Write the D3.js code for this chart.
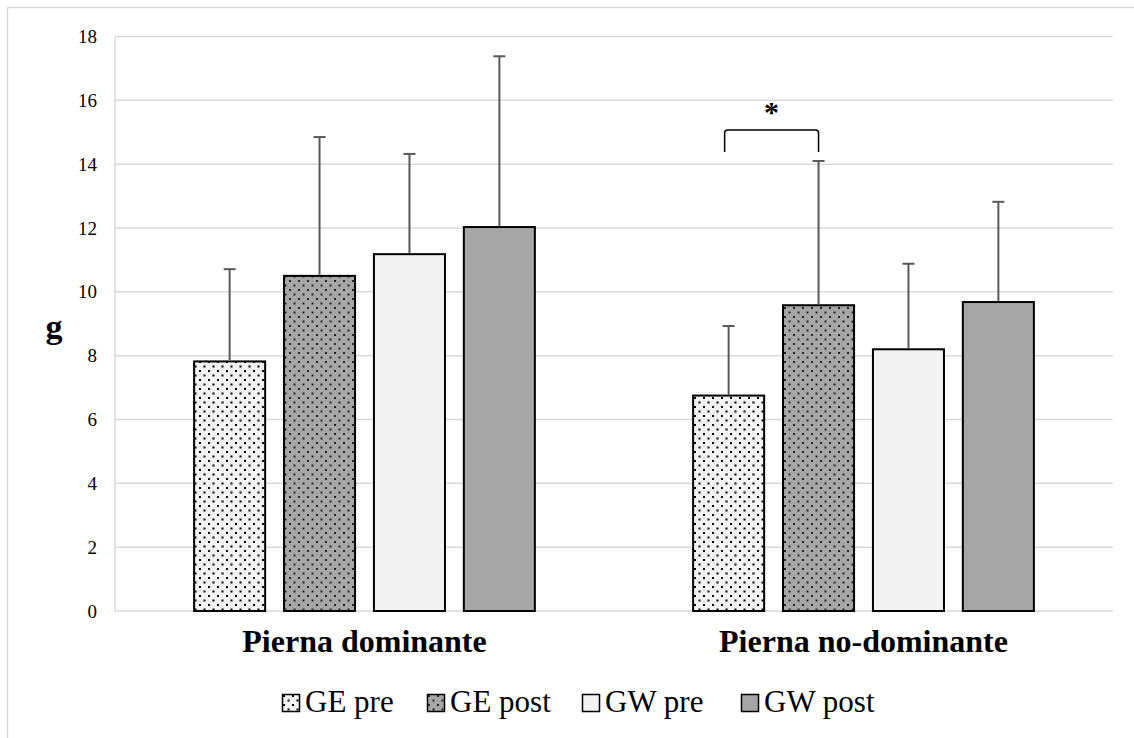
<!DOCTYPE html>
<html>
<head>
  <meta charset="utf-8">
  <script src="https://cdn.jsdelivr.net/npm/d3@7"></script>
  <style>
body { margin: 0; background: #fff; }
svg { font-family: "Liberation Serif", "Times New Roman", serif; }
.grid line { stroke: #d9d9d9; stroke-width: 1.5px; }
.err { stroke: #595959; stroke-width: 2px; }
  </style>
</head>
<body>
  <svg width="1134" height="738"></svg>
  <script>

// data
const categories = ["Pierna dominante", "Pierna no-dominante"];
const series = ["GE pre", "GE post", "GW pre", "GW post"];
const means = [
  [7.82, 10.5, 11.18, 12.03],
  [6.75, 9.58, 8.2, 9.68]
];
const errTop = [
  [10.71, 14.85, 14.32, 17.38],
  [8.93, 14.1, 10.88, 12.82]
];
const yTicks = [0, 2, 4, 6, 8, 10, 12, 14, 16, 18];

const fills = ["url(#dotsLight)", "url(#dotsDark)", "#f2f2f2", "#a6a6a6"];

var svg = d3.select("svg");

var plotL = 115, plotR = 1113, plotT = 36.5, plotB = 611;

// outer chart frame (only left/top edges visible in shot)
svg.append("rect")
   .attr("x", 7.5).attr("y", 7.5)
   .attr("width", 1140).attr("height", 740)
   .attr("fill", "none").attr("stroke", "#d9d9d9").attr("stroke-width", 1.5);

var defs = svg.append("defs");
function dotPattern(id, bg, dot) {
  var p = defs.append("pattern")
              .attr("id", id)
              .attr("patternUnits", "userSpaceOnUse")
              .attr("width", 9).attr("height", 9);
  p.append("rect").attr("width", 9).attr("height", 9).attr("fill", bg);
  p.append("rect").attr("x", 1).attr("y", 1).attr("width", 2).attr("height", 2).attr("fill", dot);
  p.append("rect").attr("x", 5.5).attr("y", 5.5).attr("width", 2).attr("height", 2).attr("fill", dot);
}
dotPattern("dotsLight", "#f2f2f2", "#000");
dotPattern("dotsDark", "#a6a6a6", "#262626");

var y = d3.scaleLinear().domain([0, 18]).range([plotB, plotT]);

var x0 = d3.scaleBand()
           .domain(categories)
           .range([plotL, plotR]);

var x1 = d3.scaleBand()
           .domain(series)
           .range([0, x0.bandwidth()])
           .paddingInner(0.21)
           .paddingOuter(0.88);

// gridlines
var grid = svg.append("g").attr("class", "grid");
grid.selectAll("line.h")
    .data(yTicks)
    .enter().append("line")
    .attr("x1", plotL).attr("x2", plotR)
    .attr("y1", d => y(d)).attr("y2", d => y(d));
grid.append("line")
    .attr("x1", plotL).attr("x2", plotL)
    .attr("y1", plotT).attr("y2", plotB);

// y tick labels
svg.append("g")
   .selectAll("text")
   .data(yTicks)
   .enter().append("text")
   .attr("x", 97)
   .attr("y", d => y(d))
   .attr("dy", "0.35em")
   .attr("text-anchor", "end")
   .attr("font-size", 19)
   .text(d => d);

svg.append("text")
   .attr("x", 54).attr("y", 338)
   .attr("text-anchor", "middle")
   .attr("font-size", 34)
   .attr("font-weight", "bold")
   .text("g");

// bars
var rows = [];
categories.forEach((c, i) => {
  series.forEach((s, j) => {
    rows.push({cat: c, ser: s, j: j, v: means[i][j], e: errTop[i][j]});
  });
});

var bx = d => x0(d.cat) + x1(d.ser);

svg.append("g")
   .selectAll("rect")
   .data(rows)
   .enter().append("rect")
   .attr("x", bx)
   .attr("y", d => y(d.v))
   .attr("width", x1.bandwidth())
   .attr("height", d => y(0) - y(d.v))
   .attr("fill", d => fills[d.j])
   .attr("stroke", "#000")
   .attr("stroke-width", 2);

// error bars (upper only)
var eg = svg.append("g").attr("class", "err");
eg.selectAll("line.v")
  .data(rows)
  .enter().append("line")
  .attr("x1", d => bx(d) + x1.bandwidth() / 2)
  .attr("x2", d => bx(d) + x1.bandwidth() / 2)
  .attr("y1", d => y(d.v) - 1)
  .attr("y2", d => y(d.e));
eg.selectAll("line.cap")
  .data(rows)
  .enter().append("line")
  .attr("x1", d => bx(d) + x1.bandwidth() / 2 - 6)
  .attr("x2", d => bx(d) + x1.bandwidth() / 2 + 6)
  .attr("y1", d => y(d.e))
  .attr("y2", d => y(d.e));

// significance bracket between GE pre and GE post, second group
var bA = rows[4], bB = rows[5];
var xa = bx(bA) + x1.bandwidth() / 2 - 4, xb = bx(bB) + x1.bandwidth() / 2;
var yb = y(15.07), yl = y(14.38);
svg.append("path")
   .attr("d", `M${xa},${yl} L${xa},${yb + 3} Q${xa},${yb} ${xa + 3},${yb} L${xb - 3},${yb} Q${xb},${yb} ${xb},${yb + 3} L${xb},${yl}`)
   .attr("fill", "none")
   .attr("stroke", "#000")
   .attr("stroke-width", 1.5);
svg.append("text")
   .attr("x", (xa + xb) / 2)
   .attr("y", yb - 8)
   .attr("text-anchor", "middle")
   .attr("font-size", 30)
   .attr("font-weight", "bold")
   .text("*");

// category labels
svg.append("g")
   .selectAll("text")
   .data(categories)
   .enter().append("text")
   .attr("x", d => x0(d) + x0.bandwidth() / 2)
   .attr("y", 652)
   .attr("text-anchor", "middle")
   .attr("font-size", 32)
   .attr("font-weight", "bold")
   .text(d => d);

// legend
var legX = [282, 427, 582, 741];
var leg = svg.append("g")
             .selectAll("g")
             .data(series)
             .enter().append("g")
             .attr("transform", (d, i) => `translate(${legX[i]},694)`);
leg.append("rect")
   .attr("x", 0.5).attr("y", 0.5)
   .attr("width", 17).attr("height", 17)
   .attr("fill", (d, i) => fills[i])
   .attr("stroke", "#000")
   .attr("stroke-width", 1.5);
leg.append("text")
   .attr("x", 23)
   .attr("y", 18)
   .attr("font-size", 31)
   .text(d => d);
</script>
</body>
</html>
